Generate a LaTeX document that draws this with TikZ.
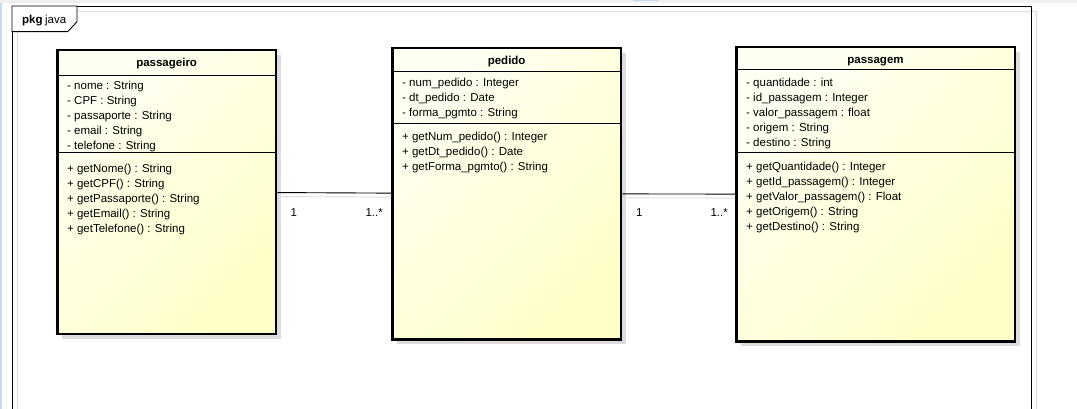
\documentclass[tikz,border=0pt]{standalone}
\usepackage{fontspec}
\setmainfont{Liberation Sans}
\usetikzlibrary{positioning,shadows}
\definecolor{clsfilla}{HTML}{FFFFF4}
\definecolor{clsfillb}{HTML}{FFFFC8}
\definecolor{shadowgray}{HTML}{DCDCDC}
\definecolor{chromeblue}{HTML}{C4DAF0}

\begin{document}
\begin{tikzpicture}[x=1pt,y=-1pt]
        \tikzset{umlclass/.style={draw, line width=2.5pt, anchor=north west,
                top color=clsfilla, bottom color=clsfillb, shading angle=45,
                general shadow={fill=shadowgray, shadow xshift=5pt, shadow yshift=-5pt}},
        clstitle/.style={anchor=base, inner sep=0pt, font=\fontsize{11.5}{14}\selectfont\bfseries},
        members/.style={anchor=north west, align=left, inner sep=0pt, font=\fontsize{11.5}{15}\selectfont},
        sep/.style={line width=0.9pt},
        assoc/.style={line width=0.9pt},
        assocshadow/.style={draw=shadowgray, line width=0.9pt, shorten <=4pt, transform canvas={shift={(0pt,-4pt)}}},
        mult/.style={inner sep=0pt, font=\fontsize{11.5}{14}\selectfont}
        }
        \useasboundingbox (0,0) rectangle (1077,409);
        \fill[white] (0,0) rectangle (1077,409);

%% window edges and package frame
        \fill[gray!12] (0,0) rectangle (1077,3);
        \fill[chromeblue] (0,3) rectangle (2,409);
        \fill[chromeblue] (633,0) rectangle (659,1.5);
        \draw[shadowgray, line width=0.9pt] (17,11) rectangle (1036,415);
        \draw[line width=0.9pt] (12,6) rectangle (1031.5,415);
        \draw[fill=white, line width=0.9pt] (12,6) -- (77,6) -- (77,21.7) -- (67.7,31.7) -- (12,31.7) -- cycle;
        \node [anchor=base west, inner sep=0pt, font=\fontsize{11.5}{14}\selectfont] (pkg) at (22,24) {\textbf{pkg}\hspace{2.5pt}java};

%% classes
        \node [umlclass, minimum width=218.8pt, minimum height=283.5pt] (passageiro) at (56,49) {};
        \node [umlclass, minimum width=228.8pt, minimum height=291.5pt] (pedido) at (391,46.7) {};
        \node [umlclass, minimum width=278.5pt, minimum height=294.2pt] (passagem) at (735,46) {};

        \node [clstitle] (passageironame) at ([yshift=-17.5pt]passageiro.north) {passageiro};
        \node [clstitle] (pedidoname) at ([yshift=-17.5pt]pedido.north) {pedido};
        \node [clstitle] (passagemname) at ([yshift=-17.5pt]passagem.north) {passagem};

        \draw[sep] ([yshift=-26pt]passageiro.north west) -- ([yshift=-26pt]passageiro.north east);
        \draw[sep] ([yshift=-103.7pt]passageiro.north west) -- ([yshift=-103.7pt]passageiro.north east);
        \draw[sep] ([yshift=-25pt]pedido.north west) -- ([yshift=-25pt]pedido.north east);
        \draw[sep] ([yshift=-76.6pt]pedido.north west) -- ([yshift=-76.6pt]pedido.north east);
        \draw[sep] ([yshift=-23.3pt]passagem.north west) -- ([yshift=-23.3pt]passagem.north east);
        \draw[sep] ([yshift=-106.7pt]passagem.north west) -- ([yshift=-106.7pt]passagem.north east);

        \node [members] (passageiroattr) at ([xshift=11pt,yshift=-31.7pt]passageiro.north west)
                {- nome : String\\- CPF : String\\- passaporte : String\\- email : String\\- telefone : String};
        \node [members] (passageiroops) at ([xshift=11pt,yshift=-115pt]passageiro.north west)
                {+ getNome() : String\\+ getCPF() : String\\+ getPassaporte() : String\\+ getEmail() : String\\+ getTelefone() : String};
        \node [members] (pedidoattr) at ([xshift=11pt,yshift=-31.7pt]pedido.north west)
                {- num\_pedido : Integer\\- dt\_pedido : Date\\- forma\_pgmto : String};
        \node [members] (pedidoops) at ([xshift=11pt,yshift=-84.9pt]pedido.north west)
                {+ getNum\_pedido() : Integer\\+ getDt\_pedido() : Date\\+ getForma\_pgmto() : String};
        \node [members] (passagemattr) at ([xshift=11pt,yshift=-32.4pt]passagem.north west)
                {- quantidade : int\\- id\_passagem : Integer\\- valor\_passagem : float\\- origem : String\\- destino : String};
        \node [members] (passagemops) at ([xshift=11pt,yshift=-115.7pt]passagem.north west)
                {+ getQuantidade() : Integer\\+ getId\_passagem() : Integer\\+ getValor\_passagem() : Float\\+ getOrigem() : String\\+ getDestino() : String};

%% associations
        \path[assocshadow] (passageiro) -- (pedido);
        \path[assocshadow] (pedido) -- (passagem);
        \draw[assoc] (passageiro) -- (pedido);
        \draw[assoc] (pedido) -- (passagem);

        \node [mult, anchor=base west] (m1) at ([xshift=13pt,yshift=-24pt]passageiro.east) {1};
        \node [mult, anchor=base east] (m2) at ([xshift=-8pt,yshift=-22.3pt]pedido.west) {1..*};
        \node [mult, anchor=base west] (m3) at ([xshift=13.5pt,yshift=-22.3pt]pedido.east) {1};
        \node [mult, anchor=base east] (m4) at ([xshift=-7pt,yshift=-21.7pt]passagem.west) {1..*};
    \end{tikzpicture}
\end{document}
